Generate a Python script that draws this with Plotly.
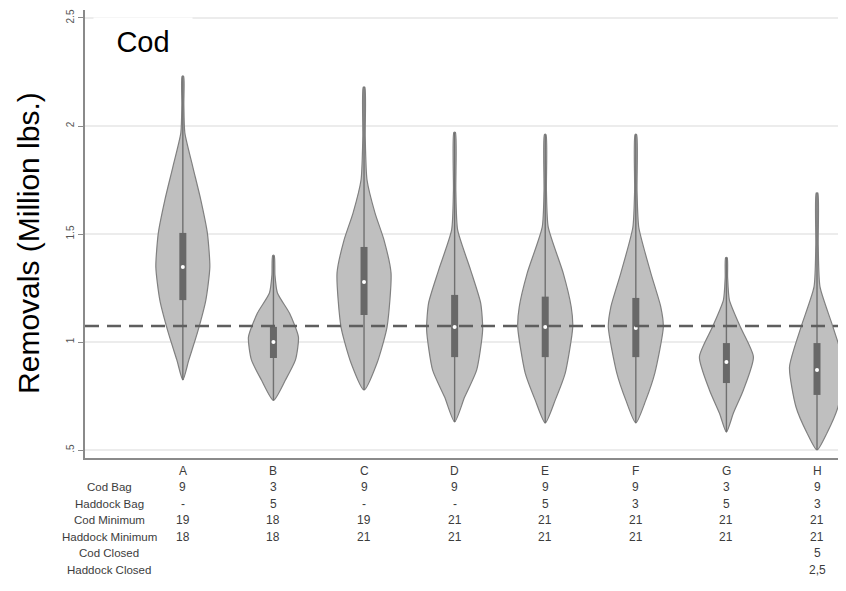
import plotly.graph_objects as go

# ---------------- data ----------------
categories = ["A", "B", "C", "D", "E", "F", "G", "H"]

# violin outlines: values (Million lbs.) and relative density (half-width) at those values
violin_y = {
    "A": [0.824, 0.917, 1.042, 1.194, 1.347, 1.505, 1.657, 1.810, 1.968, 2.10, 2.23],
    "B": [0.73, 0.824, 0.917, 1.023, 1.134, 1.227, 1.31, 1.40],
    "C": [0.778, 0.903, 1.069, 1.319, 1.472, 1.597, 1.75, 1.95, 2.18],
    "D": [0.63, 0.745, 0.870, 1.056, 1.181, 1.333, 1.519, 1.70, 1.97],
    "E": [0.625, 0.731, 0.856, 1.069, 1.162, 1.319, 1.532, 1.70, 1.96],
    "F": [0.625, 0.731, 0.856, 1.069, 1.162, 1.319, 1.53, 1.70, 1.96],
    "G": [0.583, 0.671, 0.778, 0.931, 1.069, 1.194, 1.30, 1.39],
    "H": [0.50, 0.579, 0.699, 0.884, 1.069, 1.255, 1.45, 1.69],
}
violin_density = {
    "A": [0, 6, 14.5, 23, 27, 24.5, 18, 10, 2, 1.0, 0.8],
    "B": [0, 12, 22, 25, 16, 4, 1.5, 0.8],
    "C": [0, 13, 23, 27, 20, 11, 3, 1.2, 0.8],
    "D": [0, 10, 22, 28, 26, 16, 3, 1.2, 0.8],
    "E": [0, 10, 20, 27.5, 26, 18, 3, 1.2, 0.8],
    "F": [0, 10, 19, 27.5, 25, 15, 3, 1.2, 0.8],
    "G": [0, 7, 17, 27, 14, 3, 1.2, 0.8],
    "H": [0, 10, 21, 27.5, 16, 3, 1.2, 0.8],
}
q1 = [1.194, 0.926, 1.125, 0.930, 0.930, 0.930, 0.810, 0.755]
median = [1.347, 1.000, 1.278, 1.070, 1.069, 1.065, 0.907, 0.870]
q3 = [1.505, 1.070, 1.440, 1.218, 1.210, 1.204, 0.995, 0.995]
reference_line = 1.074

y_ticks = [0.5, 1, 1.5, 2, 2.5]
y_tick_labels = [".5", "1", "1.5", "2", "2.5"]

row_labels = ["Cod Bag", "Haddock Bag", "Cod Minimum", "Haddock Minimum", "Cod Closed", "Haddock Closed"]
table_values = [
    ["9", "3", "9", "9", "9", "9", "3", "9"],
    ["-", "5", "-", "-", "5", "3", "5", "3"],
    ["19", "18", "19", "21", "21", "21", "21", "21"],
    ["18", "18", "21", "21", "21", "21", "21", "21"],
    ["", "", "", "", "", "", "", "5"],
    ["", "", "", "", "", "", "", "2,5"],
]

# ---------------- styling ----------------
DENS_SCALE = 1.0 / 90.6      # density unit -> category width
FILL = "#bfbfbf"
EDGE = "#808080"
BOX = "#686868"
TXT = "#3c3c3c"
FONT = "Liberation Sans, Arial"

fig = go.Figure()

for i, cat in enumerate(categories):
    ys = violin_y[cat]
    ws = [d * DENS_SCALE for d in violin_density[cat]]
    xs_out = [i + w for w in ws] + [i - w for w in reversed(ws)]
    ys_out = ys + list(reversed(ys))
    fig.add_trace(go.Scatter(x=xs_out, y=ys_out, mode="lines", fill="toself",
                             fillcolor=FILL, line=dict(color=EDGE, width=1.2, shape="spline", smoothing=0.6),
                             hoverinfo="skip", showlegend=False))
    fig.add_trace(go.Scatter(x=[i, i], y=[ys[0], ys[-1]], mode="lines",
                             line=dict(color="#707070", width=1.4), hoverinfo="skip", showlegend=False))
    fig.add_trace(go.Scatter(x=[i, i], y=[q1[i], q3[i]], mode="lines",
                             line=dict(color=BOX, width=7), hoverinfo="skip", showlegend=False))
    fig.add_trace(go.Scatter(x=[i], y=[median[i]], mode="markers",
                             marker=dict(color="white", size=4), hoverinfo="skip", showlegend=False))

fig.add_shape(type="line", xref="paper", x0=0, x1=1, yref="y", y0=reference_line, y1=reference_line,
              line=dict(color="#5e5e5e", width=2.6, dash="14px,8px"), layer="above")

# table below the plot
ROW0 = -0.029
ROWSTEP = 16.5 / 448
for i, cat in enumerate(categories):
    fig.add_annotation(x=i, xref="x", y=ROW0, yref="paper", text=cat, showarrow=False,
                       font=dict(size=12, color=TXT, family=FONT), yanchor="middle")
for r, lab in enumerate(row_labels):
    yy = ROW0 - ROWSTEP * (r + 1)
    fig.add_annotation(x=-0.815, xref="x", y=yy, yref="paper", text=lab, showarrow=False,
                       font=dict(size=11.5, color=TXT, family=FONT),
                       xanchor="center", yanchor="middle")
    for i, v in enumerate(table_values[r]):
        if v:
            fig.add_annotation(x=i, xref="x", y=yy, yref="paper", text=v, showarrow=False,
                               font=dict(size=12, color=TXT, family=FONT), yanchor="middle")

# "Cod" panel label
fig.add_annotation(x=-0.44, xref="x", y=2.389, yref="y", text="Cod", showarrow=False,
                   font=dict(size=29, color="black", family=FONT),
                   bgcolor="white", xanchor="center", yanchor="middle",
                   width=96, height=46)

# y-axis title
fig.add_annotation(x=0, xref="paper", xshift=-56, y=0.48, yref="paper",
                   text="Removals (Million lbs.)", textangle=-90, showarrow=False,
                   font=dict(size=30, color="black", family=FONT),
                   xanchor="center", yanchor="middle")

# the page body has an 8px margin, so the plot area is placed to land at the reference position
fig.update_layout(
    width=846, height=591,
    margin=dict(l=77, r=8, t=2, b=141, autoexpand=False),
    paper_bgcolor="white", plot_bgcolor="white",
    xaxis=dict(range=[-1.08, 7.32], showgrid=False, zeroline=False, showticklabels=False,
               ticks="", showline=True, linecolor="#8a8a8a", linewidth=2, fixedrange=True),
    yaxis=dict(range=[0.463, 2.537], tickvals=y_ticks, ticktext=y_tick_labels, tickangle=-90,
               tickfont=dict(size=10, color="#555555", family=FONT),
               ticks="outside", ticklen=5, tickcolor="#8a8a8a",
               showgrid=True, gridcolor="#ececec", gridwidth=1.5, zeroline=False,
               showline=True, linecolor="#8a8a8a", linewidth=2),
    showlegend=False,
)

fig.write_html("out.html")
